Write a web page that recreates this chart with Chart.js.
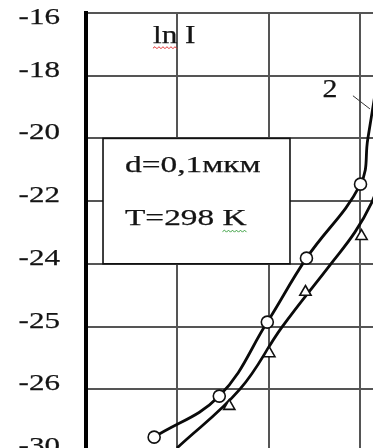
<!DOCTYPE html>
<html>
<head>
<meta charset="utf-8">
<script src="https://cdn.jsdelivr.net/npm/chart.js@4.4.1/dist/chart.umd.min.js"></script>
<style>
  html, body { margin: 0; padding: 0; background: #fff; overflow: hidden; }
  #wrap { position: absolute; left: 0; top: 0; width: 460px; height: 460px; }
</style>
</head>
<body>
<div id="wrap"><canvas id="chart" width="460" height="460"></canvas></div>
<script>
// ln I tick labels, one per horizontal grid line (the scale is not uniform in the source)
const yTickLabels = [-16, -18, -20, -22, -24, -25, -26, -30];

// x is in grid divisions, the crop shows no x tick labels
// curve 2 (circles)
const curve2X   = [0.745, 1.457, 1.982, 2.41, 3.001, 3.08, 3.16];
const curve2LnI = [-29.06, -26.44, -24.93, -23.82, -21.46, -20.03, -18.58];
const circlesX   = [0.745, 1.457, 1.982, 2.41, 3.001];
const circlesLnI = [-29.06, -26.44, -24.93, -23.82, -21.46];

// curve 1 (triangles)
const curve1X   = [0.995, 1.683, 2.142, 2.667, 2.94, 3.126, 3.213];
const curve1LnI = [-29.75, -26.00, -25.01, -24.02, -22.99, -22.03, -21.33];
const trianglesX   = [1.566, 2.004, 2.399, 3.012];
const trianglesLnI = [-27.08, -25.43, -24.45, -23.12];

// map an ln I value to its row on the non-uniform axis
function lnIToRow(v) {
    for (let i = 0; i < yTickLabels.length - 1; i++) {
        const a = yTickLabels[i], b = yTickLabels[i + 1];
        if (v <= a && v >= b) return i + (a - v) / (a - b);
    }
    return v > yTickLabels[0] ? 0 : yTickLabels.length - 1;
}

function points(xs, vs) {
    return xs.map((x, i) => ({ x: x, y: lnIToRow(vs[i]) }));
}

const SERIF = '"Liberation Serif", "Times New Roman", serif';

function stretchedText(ctx, str, px, py, size, sx, align) {
    ctx.save();
    ctx.font = size + 'px ' + SERIF;
    ctx.fillStyle = '#141414';
    ctx.strokeStyle = '#141414';
    ctx.lineWidth = 0.25;
    ctx.textBaseline = 'middle';
    ctx.textAlign = align;
    ctx.translate(px, py);
    ctx.scale(sx, 1);
    ctx.fillText(str, 0, 0);
    ctx.strokeText(str, 0, 0);
    ctx.restore();
}

function squiggle(ctx, x0, x1, y, color) {
    ctx.save();
    ctx.strokeStyle = color;
    ctx.lineWidth = 1;
    ctx.beginPath();
    let up = true;
    ctx.moveTo(x0, y);
    for (let x = x0 + 2; x <= x1; x += 2) {
        ctx.lineTo(x, up ? y - 1.5 : y + 0.5);
        up = !up;
    }
    ctx.stroke();
    ctx.restore();
}

const boxPlugin = {
    id: 'infoBox',
    beforeDatasetsDraw(chart) {
        const { ctx, scales: { x, y } } = chart;
        const l = x.getPixelForValue(0.186), r = x.getPixelForValue(2.23);
        const t = y.getPixelForValue(2), b = y.getPixelForValue(4);
        ctx.save();
        ctx.fillStyle = '#fff';
        ctx.fillRect(l, t, r - l, b - t);
        ctx.strokeStyle = '#111';
        ctx.lineWidth = 1.6;
        ctx.strokeRect(l, t, r - l, b - t);
        ctx.restore();
    }
};

const textPlugin = {
    id: 'texts',
    afterDraw(chart) {
        const { ctx, scales: { x, y } } = chart;

        // y tick labels
        yTickLabels.forEach((lab, i) => {
            const py = Math.max(y.getPixelForValue(i) - 5, 18);
            stretchedText(ctx, String(lab), x.left - 26, py, 23, 1.35, 'right');
        });

        // axis name with the red spell-check line under "ln"
        const lnX = x.getPixelForValue(0.732), lnY = y.getPixelForValue(0.37);
        stretchedText(ctx, 'ln I', lnX, lnY, 25, 1.25, 'left');
        ctx.font = '25px ' + SERIF;
        squiggle(ctx, lnX, lnX + ctx.measureText('ln').width * 1.25, lnY + 12, '#e03030');

        // box text
        const bx = x.getPixelForValue(0.426);
        stretchedText(ctx, 'd=0,1мкм', bx, y.getPixelForValue(2.44), 23, 1.45, 'left');
        const tY = y.getPixelForValue(3.28);
        stretchedText(ctx, 'T=298 K', bx, tY, 23, 1.45, 'left');
        ctx.font = '23px ' + SERIF;
        const kx = bx + ctx.measureText('T=298 ').width * 1.45;
        squiggle(ctx, kx, kx + ctx.measureText('K').width * 1.45, tY + 13, '#3aa040');

        // curve label with its leader line
        stretchedText(ctx, '2', x.getPixelForValue(2.667), y.getPixelForValue(1.23), 26, 1.15, 'center');
        ctx.save();
        ctx.strokeStyle = '#333';
        ctx.lineWidth = 1;
        ctx.beginPath();
        ctx.moveTo(x.getPixelForValue(2.918), y.getPixelForValue(1.32));
        ctx.lineTo(x.getPixelForValue(3.104), y.getPixelForValue(1.53));
        ctx.stroke();
        ctx.restore();
    }
};

const gridStyle = { color: '#555', lineWidth: 2, drawTicks: false };

new Chart(document.getElementById('chart').getContext('2d'), {
    type: 'scatter',
    data: {
        datasets: [
            {
                data: points(circlesX, circlesLnI),
                pointStyle: 'circle', pointRadius: 6,
                pointBackgroundColor: '#fff', pointBorderColor: '#111', pointBorderWidth: 1.6
            },
            {
                data: points(trianglesX, trianglesLnI),
                pointStyle: 'triangle', pointRadius: 6.5,
                pointBackgroundColor: '#fff', pointBorderColor: '#111', pointBorderWidth: 1.6
            },
            {
                data: points(curve2X, curve2LnI),
                showLine: true, borderColor: '#0a0a0a', borderWidth: 2.8,
                pointRadius: 0, tension: 0.4
            },
            {
                data: points(curve1X, curve1LnI),
                showLine: true, borderColor: '#0a0a0a', borderWidth: 2.8,
                pointRadius: 0, tension: 0.4
            }
        ]
    },
    options: {
        responsive: false,
        animation: false,
        events: [],
        layout: { padding: { left: 86, top: 13, right: 8, bottom: 8 } },
        plugins: { legend: { display: false }, tooltip: { enabled: false } },
        scales: {
            x: {
                type: 'linear', min: 0, max: 4,
                ticks: { display: false, stepSize: 1 },
                grid: gridStyle,
                border: { display: false }
            },
            y: {
                type: 'linear', min: 0, max: 7, reverse: true,
                ticks: { display: false, stepSize: 1 },
                grid: gridStyle,
                border: { display: true, color: '#000', width: 4 }
            }
        }
    },
    plugins: [boxPlugin, textPlugin]
});
</script>
</body>
</html>
